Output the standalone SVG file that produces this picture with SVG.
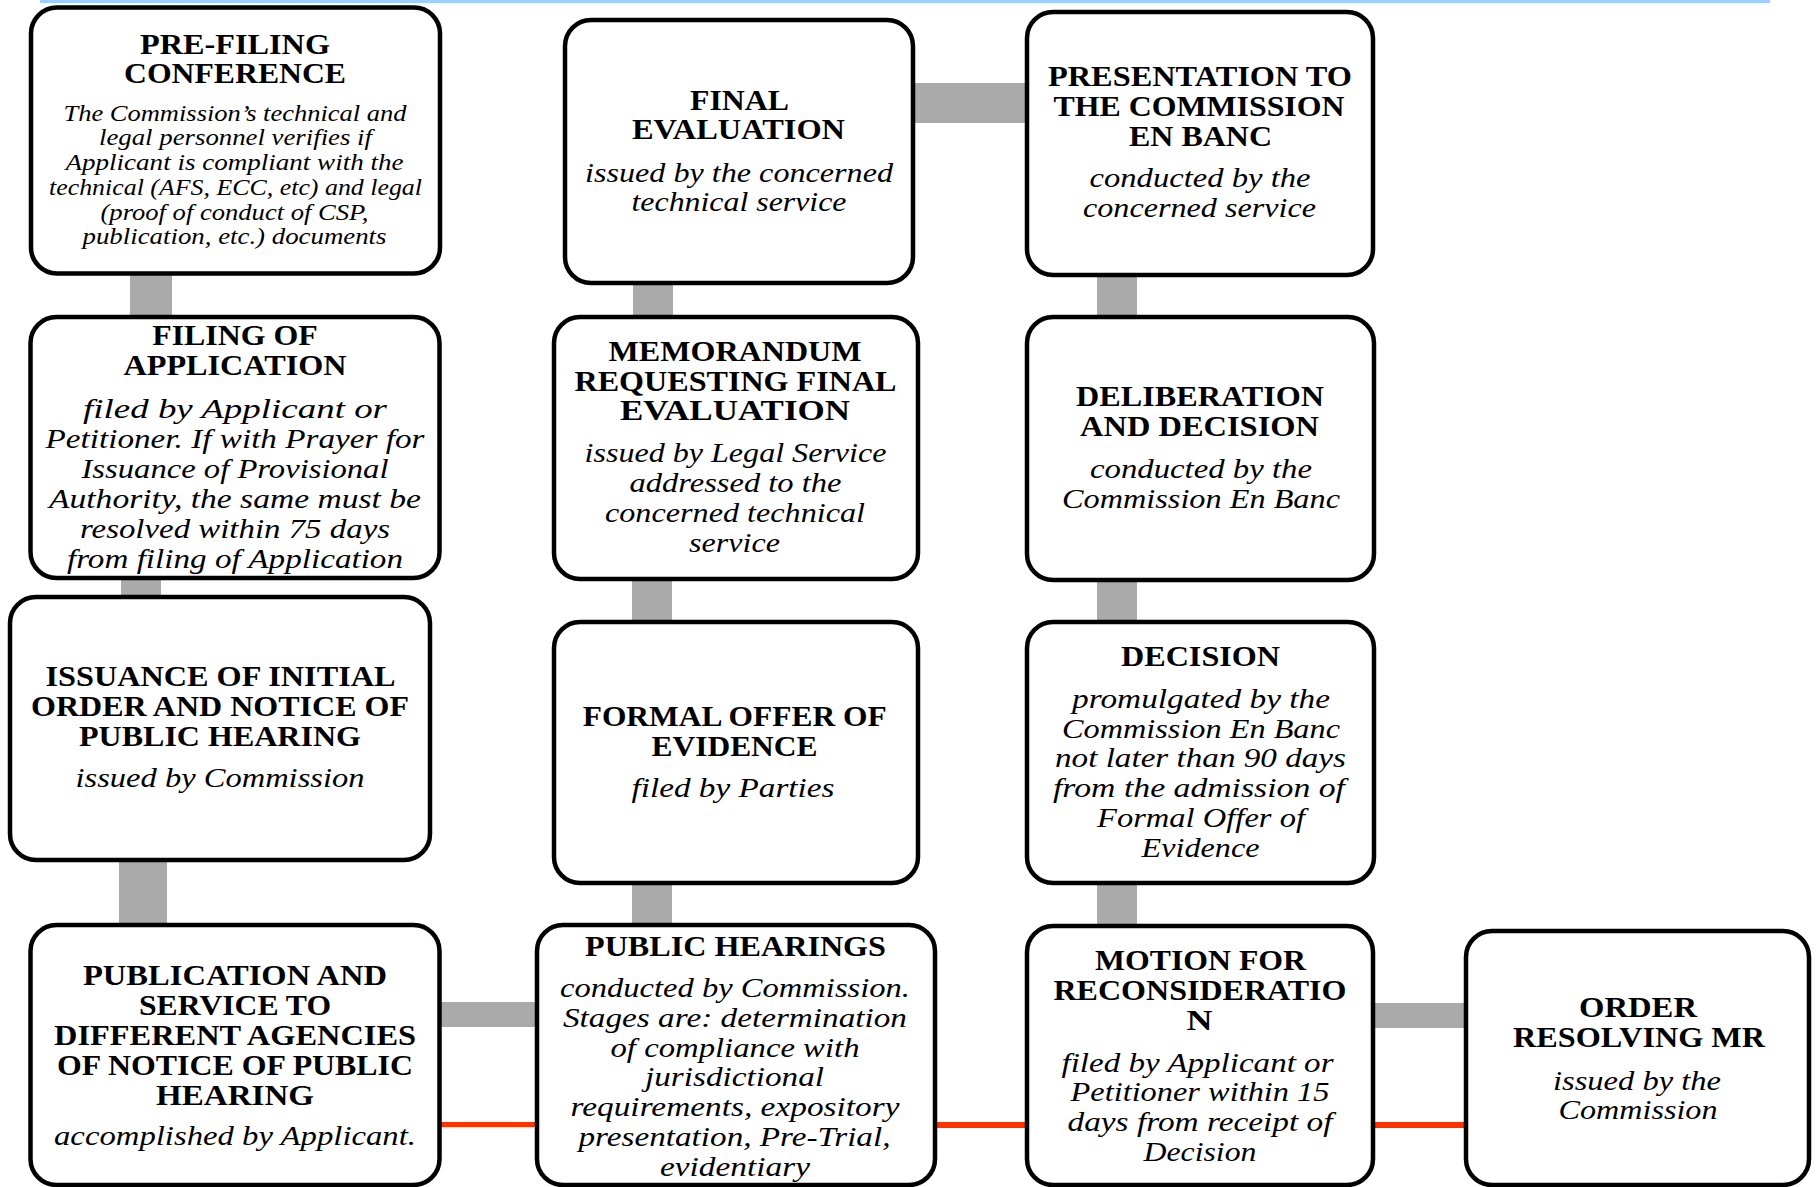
<svg xmlns="http://www.w3.org/2000/svg" width="1818" height="1187" viewBox="0 0 1818 1187">
<style>
.box{fill:#fff;stroke:#000;stroke-width:4.5}
.t{font-family:"Liberation Serif","Times New Roman",serif;font-weight:bold;font-size:28.5px;text-anchor:middle;fill:#000}
.b{font-family:"Liberation Serif","Times New Roman",serif;font-style:italic;font-size:27.5px;text-anchor:middle;fill:#000}
.s{font-size:24px}
.g{fill:#aaaaaa}
.r{fill:#ff3300}
</style>
<rect x="40" y="0" width="1730" height="3" fill="#9fcdff"/>
<g id="connectors">
<rect class="g" x="130" y="260" width="42" height="70"/>
<rect class="g" x="121" y="570" width="40" height="40"/>
<rect class="g" x="119" y="850" width="48" height="90"/>
<rect class="g" x="430" y="1002" width="120" height="25"/>
<rect class="r" x="430" y="1122" width="120" height="5"/>
<rect class="g" x="632" y="870" width="40" height="70"/>
<rect class="g" x="632" y="570" width="40" height="65"/>
<rect class="g" x="633" y="270" width="40" height="60"/>
<rect class="g" x="900" y="83" width="140" height="40"/>
<rect class="g" x="1097" y="265" width="40" height="65"/>
<rect class="g" x="1097" y="570" width="40" height="65"/>
<rect class="g" x="1097" y="870" width="40" height="70"/>
<rect class="r" x="925" y="1122" width="115" height="6"/>
<rect class="g" x="1365" y="1003" width="110" height="25"/>
<rect class="r" x="1365" y="1122" width="110" height="6"/>
</g>
<g id="n1">
<rect class="box" x="31" y="7.5" width="409" height="266" rx="26"/>
<text class="t" x="235" y="54" textLength="190" lengthAdjust="spacingAndGlyphs">PRE-FILING</text>
<text class="t" x="235" y="83" textLength="222" lengthAdjust="spacingAndGlyphs">CONFERENCE</text>
<text class="b s" x="235" y="120.5" textLength="343" lengthAdjust="spacingAndGlyphs">The Commission’s technical and</text>
<text class="b s" x="235.5" y="145" textLength="273" lengthAdjust="spacingAndGlyphs">legal personnel verifies if</text>
<text class="b s" x="234.5" y="170" textLength="338" lengthAdjust="spacingAndGlyphs">Applicant is compliant with the</text>
<text class="b s" x="235.5" y="195" textLength="373" lengthAdjust="spacingAndGlyphs">technical (AFS, ECC, etc) and legal</text>
<text class="b s" x="234.5" y="219.5" textLength="268" lengthAdjust="spacingAndGlyphs">(proof of conduct of CSP,</text>
<text class="b s" x="234.5" y="244" textLength="304" lengthAdjust="spacingAndGlyphs">publication, etc.) documents</text>
</g>
<g id="n2">
<rect class="box" x="30.5" y="317" width="409" height="261" rx="26"/>
<text class="t" x="235" y="345" textLength="165.5" lengthAdjust="spacingAndGlyphs">FILING OF</text>
<text class="t" x="235" y="375" textLength="223" lengthAdjust="spacingAndGlyphs">APPLICATION</text>
<text class="b" x="235" y="417.5" textLength="304" lengthAdjust="spacingAndGlyphs">filed by Applicant or</text>
<text class="b" x="235" y="447.5" textLength="379" lengthAdjust="spacingAndGlyphs">Petitioner. If with Prayer for</text>
<text class="b" x="235" y="477.5" textLength="307" lengthAdjust="spacingAndGlyphs">Issuance of Provisional</text>
<text class="b" x="235" y="507.5" textLength="372" lengthAdjust="spacingAndGlyphs">Authority, the same must be</text>
<text class="b" x="235" y="537.5" textLength="310" lengthAdjust="spacingAndGlyphs">resolved within 75 days</text>
<text class="b" x="235" y="567.5" textLength="336" lengthAdjust="spacingAndGlyphs">from filing of Application</text>
</g>
<g id="n3">
<rect class="box" x="10" y="597" width="420" height="263" rx="26"/>
<text class="t" x="220.5" y="686" textLength="350" lengthAdjust="spacingAndGlyphs">ISSUANCE OF INITIAL</text>
<text class="t" x="220" y="716" textLength="378" lengthAdjust="spacingAndGlyphs">ORDER AND NOTICE OF</text>
<text class="t" x="220" y="745.5" textLength="282" lengthAdjust="spacingAndGlyphs">PUBLIC HEARING</text>
<text class="b" x="220" y="786.5" textLength="289" lengthAdjust="spacingAndGlyphs">issued by Commission</text>
</g>
<g id="n4">
<rect class="box" x="30.5" y="925" width="409" height="260" rx="26"/>
<text class="t" x="235" y="985" textLength="304" lengthAdjust="spacingAndGlyphs">PUBLICATION AND</text>
<text class="t" x="235" y="1015" textLength="192" lengthAdjust="spacingAndGlyphs">SERVICE TO</text>
<text class="t" x="235" y="1045" textLength="362" lengthAdjust="spacingAndGlyphs">DIFFERENT AGENCIES</text>
<text class="t" x="235" y="1075" textLength="356" lengthAdjust="spacingAndGlyphs">OF NOTICE OF PUBLIC</text>
<text class="t" x="235" y="1104.5" textLength="158" lengthAdjust="spacingAndGlyphs">HEARING</text>
<text class="b" x="235" y="1145" textLength="362" lengthAdjust="spacingAndGlyphs">accomplished by Applicant.</text>
</g>
<g id="n5">
<rect class="box" x="565" y="20" width="348" height="263" rx="26"/>
<text class="t" x="739.5" y="110" textLength="99" lengthAdjust="spacingAndGlyphs">FINAL</text>
<text class="t" x="738.5" y="138.5" textLength="213" lengthAdjust="spacingAndGlyphs">EVALUATION</text>
<text class="b" x="739" y="181.5" textLength="308" lengthAdjust="spacingAndGlyphs">issued by the concerned</text>
<text class="b" x="739" y="211" textLength="215" lengthAdjust="spacingAndGlyphs">technical service</text>
</g>
<g id="n6">
<rect class="box" x="554" y="317" width="364" height="262" rx="26"/>
<text class="t" x="735" y="361" textLength="253" lengthAdjust="spacingAndGlyphs">MEMORANDUM</text>
<text class="t" x="735.5" y="390.7" textLength="322" lengthAdjust="spacingAndGlyphs">REQUESTING FINAL</text>
<text class="t" x="735" y="420" textLength="230" lengthAdjust="spacingAndGlyphs">EVALUATION</text>
<text class="b" x="735.5" y="462" textLength="302" lengthAdjust="spacingAndGlyphs">issued by Legal Service</text>
<text class="b" x="735.5" y="492" textLength="212" lengthAdjust="spacingAndGlyphs">addressed to the</text>
<text class="b" x="735" y="522" textLength="260" lengthAdjust="spacingAndGlyphs">concerned technical</text>
<text class="b" x="734.5" y="551.5" textLength="91" lengthAdjust="spacingAndGlyphs">service</text>
</g>
<g id="n7">
<rect class="box" x="554" y="622" width="364" height="261" rx="26"/>
<text class="t" x="734.7" y="726" textLength="304" lengthAdjust="spacingAndGlyphs">FORMAL OFFER OF</text>
<text class="t" x="734.5" y="755.5" textLength="166" lengthAdjust="spacingAndGlyphs">EVIDENCE</text>
<text class="b" x="733" y="797" textLength="203" lengthAdjust="spacingAndGlyphs">filed by Parties</text>
</g>
<g id="n8">
<rect class="box" x="537" y="925" width="398" height="260" rx="26"/>
<text class="t" x="735.5" y="955.5" textLength="301" lengthAdjust="spacingAndGlyphs">PUBLIC HEARINGS</text>
<text class="b" x="735" y="996.7" textLength="350" lengthAdjust="spacingAndGlyphs">conducted by Commission.</text>
<text class="b" x="735" y="1026.7" textLength="344" lengthAdjust="spacingAndGlyphs">Stages are: determination</text>
<text class="b" x="735" y="1056.7" textLength="249" lengthAdjust="spacingAndGlyphs">of compliance with</text>
<text class="b" x="734.5" y="1086.2" textLength="179" lengthAdjust="spacingAndGlyphs">jurisdictional</text>
<text class="b" x="735" y="1116" textLength="329" lengthAdjust="spacingAndGlyphs">requirements, expository</text>
<text class="b" x="734.5" y="1146" textLength="312" lengthAdjust="spacingAndGlyphs">presentation, Pre-Trial,</text>
<text class="b" x="735" y="1175.5" textLength="150" lengthAdjust="spacingAndGlyphs">evidentiary</text>
</g>
<g id="n9">
<rect class="box" x="1027" y="12" width="346" height="263" rx="26"/>
<text class="t" x="1200" y="86" textLength="304" lengthAdjust="spacingAndGlyphs">PRESENTATION TO</text>
<text class="t" x="1199" y="116" textLength="291" lengthAdjust="spacingAndGlyphs">THE COMMISSION</text>
<text class="t" x="1200.5" y="146" textLength="143" lengthAdjust="spacingAndGlyphs">EN BANC</text>
<text class="b" x="1200" y="187" textLength="221" lengthAdjust="spacingAndGlyphs">conducted by the</text>
<text class="b" x="1199.5" y="217" textLength="233" lengthAdjust="spacingAndGlyphs">concerned service</text>
</g>
<g id="n10">
<rect class="box" x="1027" y="317" width="347" height="263" rx="26"/>
<text class="t" x="1200" y="405.5" textLength="248" lengthAdjust="spacingAndGlyphs">DELIBERATION</text>
<text class="t" x="1199.5" y="435.5" textLength="239" lengthAdjust="spacingAndGlyphs">AND DECISION</text>
<text class="b" x="1201" y="477.7" textLength="222" lengthAdjust="spacingAndGlyphs">conducted by the</text>
<text class="b" x="1201" y="507.5" textLength="278" lengthAdjust="spacingAndGlyphs">Commission En Banc</text>
</g>
<g id="n11">
<rect class="box" x="1027" y="622" width="347" height="261" rx="26"/>
<text class="t" x="1200.5" y="666" textLength="159" lengthAdjust="spacingAndGlyphs">DECISION</text>
<text class="b" x="1201" y="707.7" textLength="258" lengthAdjust="spacingAndGlyphs">promulgated by the</text>
<text class="b" x="1201" y="737.5" textLength="278" lengthAdjust="spacingAndGlyphs">Commission En Banc</text>
<text class="b" x="1200.5" y="767" textLength="291" lengthAdjust="spacingAndGlyphs">not later than 90 days</text>
<text class="b" x="1199" y="797.3" textLength="292" lengthAdjust="spacingAndGlyphs">from the admission of</text>
<text class="b" x="1201" y="827.3" textLength="208" lengthAdjust="spacingAndGlyphs">Formal Offer of</text>
<text class="b" x="1200.5" y="856.7" textLength="118" lengthAdjust="spacingAndGlyphs">Evidence</text>
</g>
<g id="n12">
<rect class="box" x="1027" y="926" width="346" height="259" rx="26"/>
<text class="t" x="1200.5" y="970" textLength="211" lengthAdjust="spacingAndGlyphs">MOTION FOR</text>
<text class="t" x="1200" y="1000" textLength="293" lengthAdjust="spacingAndGlyphs">RECONSIDERATIO</text>
<text class="t" x="1199.5" y="1029.5" textLength="26" lengthAdjust="spacingAndGlyphs">N</text>
<text class="b" x="1197.5" y="1071.7" textLength="272" lengthAdjust="spacingAndGlyphs">filed by Applicant or</text>
<text class="b" x="1200" y="1101.2" textLength="259" lengthAdjust="spacingAndGlyphs">Petitioner within 15</text>
<text class="b" x="1200" y="1130.5" textLength="265" lengthAdjust="spacingAndGlyphs">days from receipt of</text>
<text class="b" x="1200" y="1160.5" textLength="113" lengthAdjust="spacingAndGlyphs">Decision</text>
</g>
<g id="n13">
<rect class="box" x="1466" y="931" width="343" height="254" rx="26"/>
<text class="t" x="1638" y="1017.3" textLength="118" lengthAdjust="spacingAndGlyphs">ORDER</text>
<text class="t" x="1639" y="1047.3" textLength="252" lengthAdjust="spacingAndGlyphs">RESOLVING MR</text>
<text class="b" x="1637" y="1089.5" textLength="168" lengthAdjust="spacingAndGlyphs">issued by the</text>
<text class="b" x="1638" y="1119" textLength="159" lengthAdjust="spacingAndGlyphs">Commission</text>
</g>
</svg>
